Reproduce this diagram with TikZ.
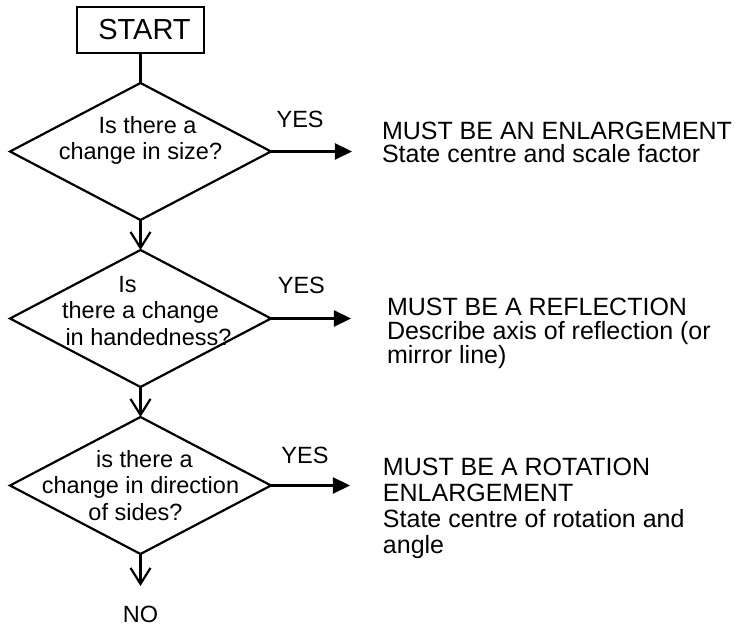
\documentclass[tikz,border=0pt]{standalone}
\usepackage{fontspec}
\setmainfont{Liberation Sans}
\usetikzlibrary{shapes.geometric, arrows.meta, positioning}

\begin{document}
\begin{tikzpicture}[
    line width=1.1pt,
    node distance=15pt,
    every node/.style={font=\fontsize{11.75pt}{12.5pt}\selectfont, inner sep=0pt, outer sep=0pt},
    startbox/.style={draw, minimum width=63.5pt, minimum height=23pt, font=\fontsize{14.5pt}{15pt}\selectfont},
    decision/.style={draw, diamond, minimum width=130.5pt, minimum height=68.5pt},
    qtext/.style={align=center, font=\fontsize{11.75pt}{13.25pt}\selectfont},
    result/.style={align=left, anchor=base west},
    down/.style={-{Straight Barb[length=8pt,width=10pt]}},
    yes/.style={-{Triangle[length=8.5pt,width=8pt]}}
  ]
    \useasboundingbox (0,0) rectangle (368pt,-315pt);

    % Questions - one below the other
    \node[startbox] (start) at (70.25pt,-15pt) {\hspace*{4pt}START};
    \node[decision, below=of start, label={[qtext, yshift=5.5pt]center:{\hspace*{7pt}Is there a\\change in size?}}] (size) {};
    \node[decision, below=of size, label={[qtext, yshift=3.75pt]center:{Is\hspace*{13pt}\\there a change\\\hspace*{8pt}in handedness?}}] (hand) {};
    \node[decision, below=of hand, label={[qtext]center:{\hspace*{4pt}is there a\\change in direction\\of sides?\hspace*{5pt}}}] (turn) {};
    \node[below=26pt of turn] (no) {NO};

    % Ends of the YES arrows
    \coordinate[right=40.5pt of size] (sizeend);
    \coordinate[right=40pt of hand] (handend);
    \coordinate[right=39.5pt of turn] (turnend);

    % Answers (anchored on the baseline of their last line)
    \node[right=15pt of sizeend, result, yshift=-5.5pt, font=\fontsize{12.5pt}{11.5pt}\selectfont] (enlarge) {MUST BE AN ENLARGEMENT\\State centre and scale factor};
    \node[right=18pt of handend, result, yshift=-22.5pt, font=\fontsize{12.5pt}{12pt}\selectfont] (reflect) {MUST BE A REFLECTION\\Describe axis of reflection (or\\mirror line)};
    \node[right=16.5pt of turnend, result, yshift=-34pt, font=\fontsize{12.5pt}{13pt}\selectfont] (rotate) {MUST BE A ROTATION\\ENLARGEMENT\\State centre of rotation and\\angle};

    % Connectors - open heads down, filled heads for YES
    \draw (start) -- (size);
    \draw[down] (size) -- (hand);
    \draw[down] (hand) -- (turn);
    \draw[down, shorten >=10pt] (turn) -- (no);

    \draw[yes] (size.east) -- node[pos=0.36, above=12pt] (yes1) {YES} (sizeend);
    \draw[yes] (hand.east) -- node[pos=0.38, above=12.5pt] (yes2) {YES} (handend);
    \draw[yes] (turn.east) -- node[pos=0.43, above=11pt] (yes3) {YES} (turnend);

  \end{tikzpicture}
\end{document}
